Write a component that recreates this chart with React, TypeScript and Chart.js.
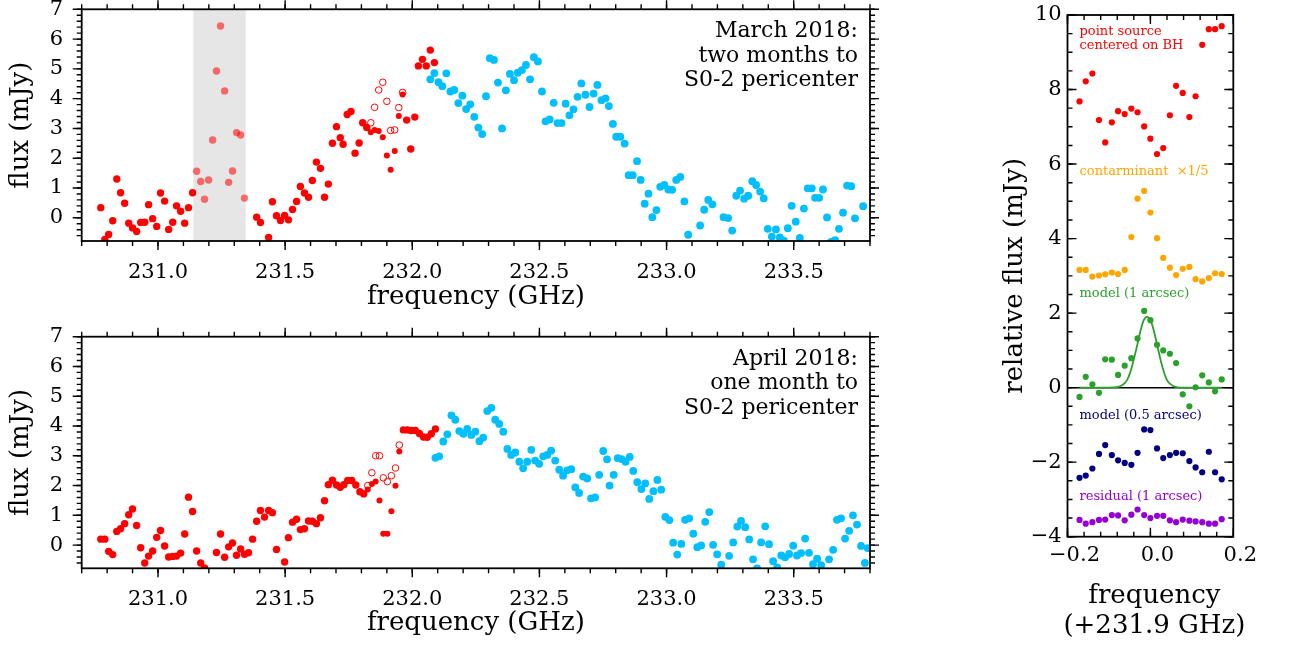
import React, { useEffect, useRef } from "react";
import { Chart, registerables } from "chart.js";

Chart.register(...registerables);

const SERIF = "'DejaVu Serif', 'Liberation Serif', serif";

// ---------- axes ----------
const LEFT_X_RANGE = [230.7, 233.8];
const LEFT_Y_RANGE = [-0.78, 7];
const LEFT_X_TICKS = [231.0, 231.5, 232.0, 232.5, 233.0, 233.5];
const LEFT_Y_TICKS = [0, 1, 2, 3, 4, 5, 6, 7];
const RIGHT_X_RANGE = [-0.2, 0.2];
const RIGHT_Y_RANGE = [-4, 10];
const RIGHT_X_TICKS = [-0.2, 0.0, 0.2];
const RIGHT_Y_TICKS = [-4, -2, 0, 2, 4, 6, 8, 10];
const MARCH_BAND = [231.139, 231.345];

const MARCH_NOTE = ["March 2018:", "two months to", "S0-2 pericenter"];
const APRIL_NOTE = ["April 2018:", "one month to", "S0-2 pericenter"];

// ---------- March 2018 (top panel) ----------
const MAR_RED_FREQ = [
  230.775, 230.791, 230.806, 230.822, 230.838, 230.853, 230.869, 230.885, 230.9, 230.916, 230.932, 230.948,
  230.963, 230.979, 230.995, 231.01, 231.026, 231.042, 231.058, 231.073, 231.089, 231.105, 231.12, 231.136,
  231.388, 231.403, 231.435, 231.45, 231.466, 231.482, 231.498, 231.513, 231.529, 231.545, 231.56, 231.576,
  231.592, 231.607, 231.623, 231.639, 231.655, 231.67, 231.686, 231.702, 231.717,
  231.728, 231.744, 231.759, 231.775, 231.791, 231.805, 231.821,
  231.978, 231.994, 232.01, 232.024, 232.04, 232.055, 232.071, 232.087,
];
const MAR_RED_FLUX = [
  0.34, -0.73, -0.56, -0.1, 1.3, 0.84, 0.49, -0.18, -0.34, -0.46, -0.16, -0.15,
  0.44, -0.03, -0.29, 0.83, 0.56, -0.39, -0.15, 0.4, 0.22, -0.18, 0.34, 0.84,
  0.02, -0.16, -0.66, 0.54, 0.07, -0.09, 0.08, -0.07, 0.28, 0.55, 1.05, 0.83,
  0.69, 1.25, 1.87, 1.66, 0.69, 1.13, 2.5, 3.06, 2.69,
  2.47, 3.47, 3.57, 2.17, 2.51, 3.19, 3.03,
  3.28, 2.31, 3.38, 5.1, 5.32, 5.1, 5.63, 5.21,
];
const MAR_BAND_FREQ = [231.152, 231.168, 231.183, 231.199, 231.215, 231.23, 231.246, 231.262, 231.278, 231.293, 231.309, 231.325, 231.34];
const MAR_BAND_FLUX = [1.56, 1.22, 0.62, 1.27, 2.61, 4.93, 6.44, 4.26, 1.19, 1.57, 2.86, 2.78, 0.66];
const MAR_FLAG_FREQ = [231.837, 231.852, 231.868, 231.884, 231.9, 231.915, 231.931, 231.947, 231.962];
const MAR_FLAG_FILLED = [2.87, 2.95, 2.91, 2.7, 2.09, 1.61, 2.24, 3.42, 4.14];
const MAR_FLAG_OPEN = [3.19, 3.71, 4.29, 4.55, 3.91, 2.93, 2.95, 3.7, 4.21];
const MAR_BLUE_FREQ = [
  232.071, 232.087, 232.103, 232.118, 232.134, 232.15, 232.165, 232.181, 232.197, 232.212, 232.228, 232.244,
  232.26, 232.275, 232.29, 232.305, 232.321, 232.337, 232.353, 232.368, 232.384, 232.4, 232.415, 232.431,
  232.447, 232.463, 232.478, 232.494, 232.51, 232.524, 232.54, 232.556, 232.571, 232.587, 232.603, 232.618,
  232.634, 232.65, 232.665, 232.681, 232.697, 232.713, 232.728, 232.744, 232.76, 232.773,
  232.789, 232.802, 232.818, 232.835, 232.851, 232.867, 232.884, 232.898, 232.914, 232.929, 232.944, 232.96,
  232.975, 232.991, 233.007, 233.022, 233.038, 233.054, 233.07, 233.085, 233.132, 233.148, 233.164, 233.18,
  233.224, 233.242, 233.258, 233.274, 233.289, 233.305, 233.321, 233.337, 233.352, 233.368, 233.382, 233.398,
  233.414, 233.43, 233.445, 233.461, 233.477, 233.492, 233.508, 233.524, 233.54, 233.555, 233.571, 233.584,
  233.6, 233.615, 233.631, 233.647, 233.663, 233.678, 233.694, 233.71, 233.726, 233.741, 233.773,
];
const MAR_BLUE_FLUX = [
  4.65, 4.86, 4.55, 4.42, 4.85, 4.24, 4.29, 3.85, 4.1, 3.65, 3.81, 3.39,
  3.03, 2.81, 4.08, 5.36, 5.3, 4.54, 3.0, 4.28, 4.83, 4.62, 4.87, 4.96,
  5.13, 4.65, 5.39, 5.25, 4.24, 3.24, 3.3, 3.86, 3.18, 3.18, 3.83, 3.44,
  3.64, 4.06, 4.51, 4.13, 3.72, 4.17, 4.46, 3.95, 4.01, 3.75,
  3.15, 2.72, 2.72, 2.49, 1.43, 1.43, 1.9, 1.27, 0.47, 0.81, 0.02, 0.26,
  1.04, 1.1, 0.95, 0.94, 1.27, 1.37, 0.55, -0.57, -0.26, 0.27, 0.6, 0.45,
  0.02, -0.01, -0.43, 0.74, 0.91, 0.64, 0.74, 1.23, 1.1, 0.88, 0.65, -0.37,
  -0.63, -0.39, -0.66, -0.77, -0.35, 0.4, -0.13, -0.68, 0.31, 0.99, 0.99, 0.67,
  0.67, 0.95, 0.01, -0.81, -0.75, -0.37, 0.17, 1.08, 1.06, -0.02, 0.39,
];

// ---------- April 2018 (bottom panel) ----------
const APR_RED_FREQ = [
  230.775, 230.791, 230.806, 230.822, 230.838, 230.853, 230.869, 230.885, 230.9, 230.916, 230.932, 230.948,
  230.963, 230.979, 230.995, 231.01, 231.026, 231.042, 231.058, 231.073, 231.089, 231.105, 231.12, 231.136,
  231.152, 231.168, 231.183,
  231.23, 231.246, 231.262, 231.278, 231.293, 231.309, 231.325, 231.34, 231.356, 231.372, 231.388, 231.403,
  231.419, 231.435, 231.45, 231.466,
  231.498, 231.513, 231.529, 231.545, 231.56, 231.576, 231.592, 231.607, 231.623, 231.639, 231.655, 231.67,
  231.686, 231.702, 231.717, 231.731, 231.746, 231.762, 231.778, 231.794, 231.809,
  231.965, 231.981, 231.996, 232.012, 232.028, 232.044, 232.059, 232.075, 232.091,
];
const APR_RED_FLUX = [
  0.2, 0.2, -0.21, -0.32, 0.46, 0.55, 0.72, 1.02, 1.21, 0.66, -0.09, -0.6,
  -0.37, -0.2, 0.26, 0.49, -0.03, -0.4, -0.38, -0.37, -0.27, 0.37, 1.61, 1.13,
  -0.2, -0.6, -0.77,
  -0.25, 0.37, -0.41, -0.06, 0.07, -0.34, -0.13, -0.31, -0.26, 0.2, 0.8, 1.16,
  0.94, 1.16, 1.09, -0.15,
  -0.57, 0.25, 0.77, 0.87, 0.52, 0.55, 0.81, 0.8, 0.72, 0.92, 1.49, 2.03,
  2.18, 2.02, 1.94, 2.03, 2.17, 2.17, 2.02, 1.79, 1.72,
  3.87, 3.87, 3.85, 3.85, 3.75, 3.63, 3.62, 3.74, 3.9,
];
const APR_FLAG_FREQ = [231.825, 231.841, 231.856, 231.871, 231.886, 231.902, 231.918, 231.934, 231.949];
const APR_FLAG_FILLED = [1.87, 2.05, 2.14, 1.5, 0.38, 0.38, 1.14, 1.99, 3.14];
const APR_FLAG_OPEN = [2.0, 2.43, 3.0, 3.0, 2.26, 2.13, 2.33, 2.59, 3.36];
const APR_BLUE_FREQ = [
  232.091, 232.106, 232.122, 232.138, 232.154, 232.169, 232.185, 232.201, 232.216, 232.232, 232.248, 232.264,
  232.279, 232.295, 232.311, 232.326, 232.342, 232.358, 232.374, 232.389, 232.405, 232.421, 232.436, 232.452,
  232.468, 232.483, 232.499, 232.515, 232.531, 232.546, 232.562, 232.578, 232.593, 232.609, 232.625, 232.641,
  232.656, 232.672, 232.688, 232.703, 232.719, 232.735, 232.751, 232.766,
  232.776, 232.792, 232.808, 232.823, 232.839, 232.855, 232.869, 232.885, 232.901, 232.916, 232.932, 232.948,
  232.964, 232.979, 232.995, 233.011, 233.026, 233.042, 233.058, 233.073, 233.089, 233.105, 233.121, 233.136,
  233.152, 233.168, 233.183, 233.199, 233.215, 233.246, 233.262, 233.278, 233.293, 233.309, 233.325, 233.34,
  233.356, 233.372, 233.388, 233.403, 233.419, 233.435, 233.451, 233.466, 233.482, 233.498, 233.513, 233.529,
  233.545, 233.56, 233.576, 233.592, 233.608, 233.639, 233.655, 233.67, 233.686, 233.702, 233.718, 233.733,
  233.749, 233.765, 233.78, 233.791,
];
const APR_BLUE_FLUX = [
  2.93, 2.98, 3.48, 3.72, 4.36, 4.21, 3.83, 3.74, 3.9, 3.7, 3.81, 3.49,
  3.61, 4.5, 4.61, 4.21, 4.07, 3.81, 3.23, 3.03, 3.11, 2.8, 2.58, 2.8,
  3.2, 2.84, 2.73, 2.98, 3.03, 3.17, 2.84, 2.53, 2.33, 2.51, 2.55, 1.94,
  1.75, 2.3, 2.24, 1.57, 1.6, 2.36, 3.16, 2.88,
  2.0, 2.36, 2.92, 2.89, 2.8, 2.96, 2.49, 2.11, 1.88, 2.07, 1.55, 1.81,
  2.19, 1.86, 0.95, 0.84, 0.08, -0.32, 0.04, 0.85, 0.9, 0.38, -0.07, -0.01,
  0.78, 1.11, 0.01, -0.31, -0.66, -0.36, 0.09, 0.62, 0.81, 0.6, 0.19, -0.48,
  -0.78, 0.09, 0.63, 0.03, -0.54, -0.75, -0.35, -0.41, -0.3, -0.02, -0.35, -0.27,
  0.22, -0.26, -0.64, -0.46, -0.67, -0.48, -0.16, 0.85, 0.9, 0.22, 0.48, 1.0,
  0.69, -0.03, -0.6, -0.1,
];

// ---------- right panel (relative flux) ----------
const REL_FREQ = [
  -0.171, -0.156, -0.14, -0.124, -0.109, -0.093, -0.078, -0.062, -0.046, -0.031, -0.015, 0.0,
  0.016, 0.031, 0.047, 0.062, 0.078, 0.094, 0.109, 0.125, 0.141, 0.156, 0.172,
];
const POINT_SOURCE = [7.68, 8.22, 8.43, 7.18, 6.58, 7.12, 7.42, 7.34, 7.49, 7.39, 7.01, 6.68, 6.27, 6.43, 7.31, 8.1, 7.91, 7.26, 7.82, 9.2, 9.62, 9.62, 9.7];
const CONTAMINANT = [3.16, 3.16, 2.98, 3.01, 3.04, 3.09, 3.05, 3.16, 4.04, 5.07, 5.28, 4.7, 4.01, 3.48, 3.22, 3.02, 3.19, 3.24, 2.91, 2.85, 2.94, 3.07, 3.05];
const MODEL_1 = [-0.25, 0.29, 0.09, -0.14, 0.76, 0.75, 0.34, 0.59, 0.79, 1.32, 2.06, 1.81, 1.15, 1.0, 0.91, 0.66, -0.18, -0.5, 0.01, 0.33, 0.14, -0.1, 0.22];
const MODEL_05 = [-2.42, -2.36, -2.17, -1.78, -1.54, -1.81, -1.95, -2.02, -2.07, -1.75, -1.12, -1.14, -1.63, -1.89, -1.81, -1.75, -1.76, -1.97, -2.14, -2.27, -1.72, -2.27, -2.46];
const RESIDUAL = [-3.55, -3.65, -3.61, -3.55, -3.54, -3.42, -3.43, -3.56, -3.41, -3.27, -3.42, -3.5, -3.44, -3.44, -3.56, -3.61, -3.54, -3.57, -3.59, -3.61, -3.65, -3.65, -3.53];
const MODEL_CURVE_FREQ = [
  -0.171, -0.12, -0.09, -0.075, -0.065, -0.056, -0.048, -0.04, -0.032, -0.024, -0.016, -0.008,
  0.0, 0.008, 0.016, 0.024, 0.032, 0.04, 0.05, 0.06, 0.075, 0.12, 0.172,
];
const MODEL_CURVE_FLUX = [
  0, 0, 0.005, 0.03, 0.09, 0.21, 0.43, 0.76, 1.13, 1.52, 1.81, 1.9,
  1.81, 1.54, 1.16, 0.77, 0.44, 0.2, 0.08, 0.02, 0, 0, 0,
];

const RIGHT_LABELS = [
  { text: "point source", color: "#ff0000", y: 9.55 },
  { text: "centered on BH", color: "#ff0000", y: 9.17 },
  { text: "contarminant  \u00d71/5", color: "#ffa500", y: 5.79 },
  { text: "model (1 arcsec)", color: "#2ca02c", y: 2.51 },
  { text: "model (0.5 arcsec)", color: "#000080", y: -0.75 },
  { text: "residual (1 arcsec)", color: "#9400d3", y: -2.93 },
];

// ---------- helpers ----------
function steps(from: number, to: number, step: number) {
  const out: number[] = [];
  const n = Math.round((to - from) / step);
  for (let i = 0; i <= n; i++) out.push(+(from + i * step).toFixed(5));
  return out;
}
function pts(xs: number[], ys: number[]) {
  return xs.map((x, i) => ({ x, y: ys[i] }));
}
function dots(data: any[], color: string, r: number, extra: any = {}) {
  return {
    data,
    showLine: false,
    pointRadius: r,
    pointBackgroundColor: color,
    pointBorderColor: color,
    pointBorderWidth: 0,
    clip: 0,
    ...extra,
  };
}

interface DecorCfg {
  xMajor: number[];
  xMinor: number[];
  yMajor: number[];
  yMinor: number[];
  inward: boolean;
  majorLen: number;
  minorLen: number;
  band?: number[];
  zeroLine?: boolean;
  notes?: string[];
  labels?: { text: string; color: string; y: number }[];
  labelX?: number;
  xTitleLines?: string[];
}

function makeDecor(cfg: DecorCfg) {
  return {
    id: "decor",
    beforeDatasetsDraw(chart: any) {
      const { ctx, chartArea: a, scales } = chart;
      ctx.save();
      if (cfg.band) {
        const x0 = scales.x.getPixelForValue(cfg.band[0]);
        const x1 = scales.x.getPixelForValue(cfg.band[1]);
        ctx.fillStyle = "#e6e6e6";
        ctx.fillRect(x0, a.top, x1 - x0, a.bottom - a.top);
      }
      if (cfg.zeroLine) {
        const py = scales.y.getPixelForValue(0);
        ctx.strokeStyle = "#000";
        ctx.lineWidth = 1.5;
        ctx.beginPath();
        ctx.moveTo(a.left, py);
        ctx.lineTo(a.right, py);
        ctx.stroke();
      }
      ctx.restore();
    },
    afterDraw(chart: any) {
      const { ctx, chartArea: a, scales } = chart;
      const xs = scales.x;
      const ys = scales.y;
      const s = cfg.inward ? -1 : 1;
      ctx.save();
      ctx.strokeStyle = "#000";
      ctx.lineWidth = 1.8;
      ctx.strokeRect(a.left, a.top, a.right - a.left, a.bottom - a.top);
      ctx.lineWidth = 1.4;
      const drawX = (vals: number[], len: number) => {
        for (const v of vals) {
          const px = xs.getPixelForValue(v);
          if (px < a.left - 0.5 || px > a.right + 0.5) continue;
          ctx.beginPath();
          ctx.moveTo(px, a.bottom);
          ctx.lineTo(px, a.bottom + s * len);
          ctx.moveTo(px, a.top);
          ctx.lineTo(px, a.top - s * len);
          ctx.stroke();
        }
      };
      const drawY = (vals: number[], len: number) => {
        for (const v of vals) {
          const py = ys.getPixelForValue(v);
          if (py < a.top - 0.5 || py > a.bottom + 0.5) continue;
          ctx.beginPath();
          ctx.moveTo(a.left, py);
          ctx.lineTo(a.left - s * len, py);
          ctx.moveTo(a.right, py);
          ctx.lineTo(a.right + s * len, py);
          ctx.stroke();
        }
      };
      drawX(cfg.xMinor, cfg.minorLen);
      drawY(cfg.yMinor, cfg.minorLen);
      drawX(cfg.xMajor, cfg.majorLen);
      drawY(cfg.yMajor, cfg.majorLen);

      if (cfg.notes) {
        ctx.fillStyle = "#000";
        ctx.font = `22px ${SERIF}`;
        ctx.textAlign = "right";
        ctx.textBaseline = "middle";
        cfg.notes.forEach((line, i) => {
          ctx.fillText(line, a.right - 12, a.top + 22.4 + i * 24.5);
        });
      }
      if (cfg.labels) {
        ctx.font = `13px ${SERIF}`;
        ctx.textAlign = "left";
        ctx.textBaseline = "middle";
        const lx = xs.getPixelForValue(cfg.labelX ?? 0);
        for (const l of cfg.labels) {
          ctx.fillStyle = l.color;
          ctx.fillText(l.text, lx, ys.getPixelForValue(l.y));
        }
      }
      if (cfg.xTitleLines) {
        ctx.fillStyle = "#000";
        ctx.font = `26px ${SERIF}`;
        ctx.textAlign = "center";
        ctx.textBaseline = "middle";
        const cx = (a.left + a.right) / 2 + 4;
        cfg.xTitleLines.forEach((line, i) => {
          ctx.fillText(line, cx, a.bottom + 60 + i * 30);
        });
      }
      ctx.restore();
    },
  };
}

function baseOptions(p: {
  padTop: number;
  padRight: number;
  yWidth: number;
  xHeight: number;
  xr: number[];
  yr: number[];
  xTicks: number[];
  yTicks: number[];
  xFmt: (v: number) => string;
  yFmt: (v: number) => string;
  xPad: number;
  yPad: number;
  xLabelOffset: number;
  xTitle?: string;
  xTitlePad?: number;
  yTitle: string;
  yTitlePad: number;
}) {
  const tickFont = { family: SERIF, size: 21 };
  const titleFont = { family: SERIF, size: 26 };
  return {
    responsive: false,
    animation: false,
    devicePixelRatio: 1,
    events: [],
    layout: { padding: { top: p.padTop, right: p.padRight, left: 0, bottom: 0 } },
    plugins: { legend: { display: false }, tooltip: { enabled: false } },
    scales: {
      x: {
        type: "linear",
        min: p.xr[0],
        max: p.xr[1],
        afterBuildTicks: (s: any) => {
          s.ticks = p.xTicks.map((v) => ({ value: v }));
        },
        afterFit: (s: any) => {
          s.height = p.xHeight;
          s.paddingLeft = 0;
          s.paddingRight = 0;
          s.paddingTop = 0;
          s.paddingBottom = 0;
        },
        grid: { display: false, drawTicks: false },
        border: { display: false },
        ticks: {
          autoSkip: false,
          maxRotation: 0,
          minRotation: 0,
          padding: p.xPad,
          labelOffset: p.xLabelOffset,
          color: "#000",
          font: tickFont,
          callback: (v: any) => p.xFmt(Number(v)),
        },
        title: p.xTitle
          ? { display: true, text: p.xTitle, color: "#000", font: titleFont, padding: { top: 0, bottom: p.xTitlePad } }
          : { display: false },
      },
      y: {
        type: "linear",
        min: p.yr[0],
        max: p.yr[1],
        afterBuildTicks: (s: any) => {
          s.ticks = p.yTicks.map((v) => ({ value: v }));
        },
        afterFit: (s: any) => {
          s.width = p.yWidth;
          s.paddingLeft = 0;
          s.paddingRight = 0;
          s.paddingTop = 0;
          s.paddingBottom = 0;
        },
        grid: { display: false, drawTicks: false },
        border: { display: false },
        ticks: {
          autoSkip: false,
          padding: p.yPad,
          color: "#000",
          font: tickFont,
          callback: (v: any) => p.yFmt(Number(v)),
        },
        title: { display: true, text: p.yTitle, color: "#000", font: titleFont, padding: { top: p.yTitlePad, bottom: 0 } },
      },
    },
  };
}

const fmt1 = (v: number) => (v < 0 ? "\u2212" + Math.abs(v).toFixed(1) : v.toFixed(1));
const fmt0 = (v: number) => (v < 0 ? "\u2212" + Math.abs(v) : String(v));

function leftPanel(which: "mar" | "apr", H: number, top: number, bottom: number) {
  const isMar = which === "mar";
  const datasets: any[] = isMar
    ? [
        dots(pts(MAR_RED_FREQ, MAR_RED_FLUX), "#ff0000", 3.7),
        dots(pts(MAR_BAND_FREQ, MAR_BAND_FLUX), "rgba(255,0,0,0.55)", 3.7),
        dots(pts(MAR_FLAG_FREQ, MAR_FLAG_FILLED), "#ff0000", 3.0),
        dots(pts(MAR_FLAG_FREQ, MAR_FLAG_OPEN), "rgba(0,0,0,0)", 3.3, { pointBorderColor: "#ff0000", pointBorderWidth: 1 }),
        dots(pts(MAR_BLUE_FREQ, MAR_BLUE_FLUX), "#00bfff", 3.9),
      ]
    : [
        dots(pts(APR_RED_FREQ, APR_RED_FLUX), "#ff0000", 3.7),
        dots(pts(APR_FLAG_FREQ, APR_FLAG_FILLED), "#ff0000", 3.0),
        dots(pts(APR_FLAG_FREQ, APR_FLAG_OPEN), "rgba(0,0,0,0)", 3.3, { pointBorderColor: "#ff0000", pointBorderWidth: 1 }),
        dots(pts(APR_BLUE_FREQ, APR_BLUE_FLUX), "#00bfff", 3.9),
      ];
  const options = baseOptions({
    padTop: top,
    padRight: 30,
    yWidth: 81.7,
    xHeight: H - bottom,
    xr: LEFT_X_RANGE,
    yr: LEFT_Y_RANGE,
    xTicks: LEFT_X_TICKS,
    yTicks: LEFT_Y_TICKS,
    xFmt: (v) => v.toFixed(1),
    yFmt: fmt0,
    xPad: 19,
    yPad: 18.7,
    xLabelOffset: 0,
    xTitle: "frequency (GHz)",
    xTitlePad: isMar ? 7.4 : 8.4,
    yTitle: "flux (mJy)",
    yTitlePad: 6.1,
  });
  const decor = makeDecor({
    xMajor: LEFT_X_TICKS,
    xMinor: steps(230.7, 233.8, 0.1),
    yMajor: LEFT_Y_TICKS,
    yMinor: steps(-0.6, 7, 0.2),
    inward: false,
    majorLen: 9,
    minorLen: 5,
    band: isMar ? MARCH_BAND : undefined,
    notes: isMar ? MARCH_NOTE : APRIL_NOTE,
  });
  return { type: "scatter", data: { datasets }, options, plugins: [decor] };
}

function rightPanel() {
  const datasets: any[] = [
    dots(pts(REL_FREQ, POINT_SOURCE), "#ff0000", 3.1),
    dots(pts(REL_FREQ, CONTAMINANT), "#ffa500", 3.1),
    dots(pts(REL_FREQ, MODEL_1), "#2ca02c", 3.1),
    dots(pts(REL_FREQ, MODEL_05), "#000080", 3.1),
    dots(pts(REL_FREQ, RESIDUAL), "#9400d3", 3.1),
    {
      data: pts(MODEL_CURVE_FREQ, MODEL_CURVE_FLUX),
      showLine: true,
      borderColor: "#2ca02c",
      borderWidth: 1.8,
      pointRadius: 0,
      cubicInterpolationMode: "monotone",
      clip: 0,
    },
  ];
  const options = baseOptions({
    padTop: 15,
    padRight: 58.7,
    yWidth: 107.5,
    xHeight: 110.3,
    xr: RIGHT_X_RANGE,
    yr: RIGHT_Y_RANGE,
    xTicks: RIGHT_X_TICKS,
    yTicks: RIGHT_Y_TICKS,
    xFmt: fmt1,
    yFmt: fmt0,
    xPad: 6.5,
    yPad: 5.8,
    xLabelOffset: 7,
    yTitle: "relative flux (mJy)",
    yTitlePad: 39.4,
  });
  const decor = makeDecor({
    xMajor: RIGHT_X_TICKS,
    xMinor: steps(-0.2, 0.2, 0.04),
    yMajor: RIGHT_Y_TICKS,
    yMinor: steps(-4, 10, 0.5),
    inward: true,
    majorLen: 9,
    minorLen: 5,
    zeroLine: true,
    labels: RIGHT_LABELS,
    labelX: REL_FREQ[0],
    xTitleLines: ["frequency", "(+231.9 GHz)"],
  });
  return { type: "scatter", data: { datasets }, options, plugins: [decor] };
}

function ChartCanvas(props: { left: number; top: number; width: number; height: number; build: () => any }) {
  const ref = useRef<HTMLCanvasElement>(null);
  useEffect(() => {
    const chart = new Chart(ref.current as HTMLCanvasElement, props.build());
    return () => chart.destroy();
  }, []);
  return (
    <canvas
      ref={ref}
      width={props.width}
      height={props.height}
      style={{ position: "absolute", left: props.left, top: props.top, width: props.width, height: props.height }}
    />
  );
}

export default function App() {
  return (
    <div style={{ position: "absolute", left: 0, top: 0, width: 1292, height: 647, background: "#fff", overflow: "hidden" }}>
      <ChartCanvas left={0} top={0} width={900} height={320} build={() => leftPanel("mar", 320, 9.3, 241)} />
      <ChartCanvas left={0} top={325} width={900} height={322} build={() => leftPanel("apr", 322, 11.7, 243.3)} />
      <ChartCanvas left={960} top={0} width={332} height={647} build={rightPanel} />
    </div>
  );
}
